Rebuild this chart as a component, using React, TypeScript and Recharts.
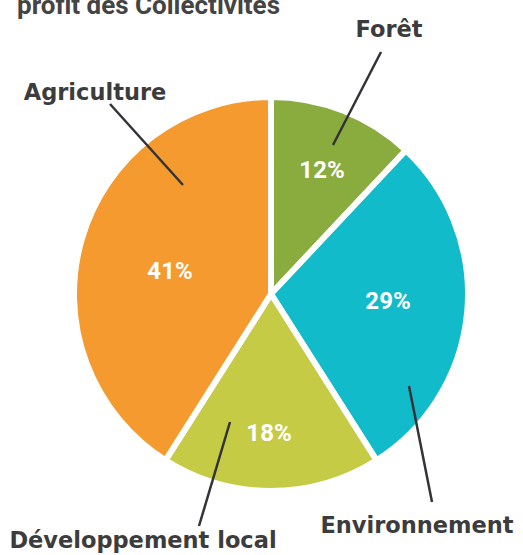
import React from "react";
import { PieChart, Pie, Cell } from "recharts";

const categories = ["Forêt", "Environnement", "Développement local", "Agriculture"];
const shares = [12, 29, 18, 41];
const colors = ["#8aab3e", "#12bbc9", "#c5cb45", "#f59a2f"];
const title = "profit des Collectivités";

const data = categories.map((name, i) => ({ name, value: shares[i] }));

// annotation layout (relative to pie centre)
const pctOffset: [number, number][] = [
  [51, -124],
  [117, 7],
  [-2, 139],
  [-101, -23],
];
const lineFrom: [number, number][] = [
  [62, -149],
  [138, 92],
  [-41, 128],
  [-88, -109],
];
const lineTo: [number, number][] = [
  [110, -242],
  [161, 208],
  [-72, 232],
  [-161, -190],
];
const nameAt: [number, number][] = [
  [118, -257],
  [146, 239],
  [-128, 254],
  [-176, -194],
];

const renderLabel = (props: any) => {
  const { cx, cy, index, name, value } = props;
  const p = pctOffset[index];
  const a = lineFrom[index];
  const b = lineTo[index];
  const n = nameAt[index];
  return (
    <g key={`lbl-${index}`}>
      <line
        x1={cx + a[0]}
        y1={cy + a[1]}
        x2={cx + b[0]}
        y2={cy + b[1]}
        stroke="#333338"
        strokeWidth={2.5}
      />
      <text
        x={cx + p[0]}
        y={cy + p[1]}
        textAnchor="middle"
        dominantBaseline="central"
        fill="#ffffff"
        fontFamily="Roboto"
        fontWeight={700}
        fontSize={24}
      >
        {`${value}%`}
      </text>
      <text
        x={cx + n[0]}
        y={cy + n[1]}
        textAnchor="middle"
        fill="#3c3c3c"
        fontFamily="DejaVu Sans"
        fontWeight={700}
        fontSize={22.5}
      >
        {name}
      </text>
    </g>
  );
};

export default function App() {
  return (
    <div style={{ position: "absolute", left: 0, top: 0, width: 523, height: 555, background: "#fff" }}>
      <svg width={523} height={30} style={{ position: "absolute", left: 0, top: 0 }}>
        <text x={17} y={13.5} fill="#444444" fontFamily="Roboto" fontWeight={700} fontSize={26}>
          {title}
        </text>
      </svg>
      <div style={{ position: "absolute", left: 0, top: 0 }}>
        <PieChart width={523} height={555} margin={{ top: 0, right: 0, bottom: 0, left: 0 }}>
          <Pie
            data={data}
            dataKey="value"
            nameKey="name"
            cx={271}
            cy={294}
            outerRadius={197}
            startAngle={90}
            endAngle={-270}
            stroke="#ffffff"
            strokeWidth={6}
            isAnimationActive={false}
            labelLine={false}
            label={renderLabel}
          >
            {data.map((d, i) => (
              <Cell key={d.name} fill={colors[i]} />
            ))}
          </Pie>
        </PieChart>
      </div>
    </div>
  );
}
